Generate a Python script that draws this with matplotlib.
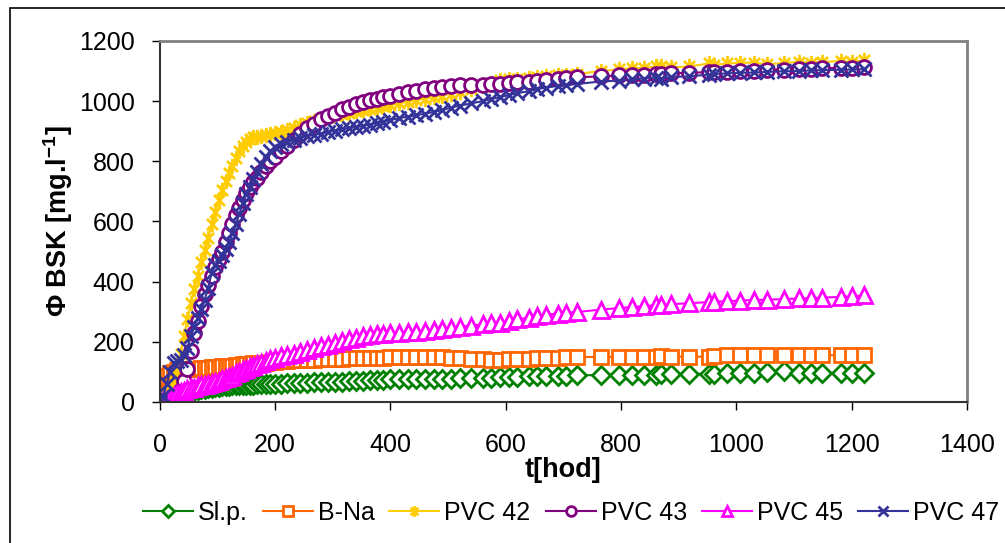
import matplotlib
matplotlib.use("Agg")
import matplotlib.pyplot as plt
from matplotlib.patches import Rectangle
from matplotlib.path import Path

plt.rcParams["font.family"] = ["Liberation Sans", "DejaVu Sans"]
plt.rcParams["mathtext.fontset"] = "custom"
plt.rcParams["mathtext.rm"] = "Liberation Sans"
plt.rcParams["mathtext.bf"] = "Liberation Sans:bold"

# sampling times [hod]
t = [0, 6, 12, 18, 24, 30, 36, 42, 48, 54, 60, 66, 72, 78, 84, 90, 96, 102, 108, 114,
     120, 126, 132, 138, 144, 150, 156, 162, 168, 176, 184, 192, 200, 210, 220, 232, 244,
     256, 268, 280, 292, 304, 316, 328, 340, 352, 364, 376, 388, 400, 415, 430, 445, 460,
     475, 490, 505, 520, 540, 560, 575, 590, 605, 620, 640, 655, 670, 690, 705, 724, 765,
     796, 820, 840, 860, 869, 886, 918, 952, 961, 984, 1007, 1031, 1054, 1083, 1109, 1129,
     1149, 1181, 1201, 1221]

slp = [0, 2, 5, 8, 12, 16, 20, 25, 30, 34, 37, 40, 42, 44, 46, 48, 50, 51, 52, 53,
       54, 55, 56, 56, 57, 57, 58, 58, 59, 59, 60, 60, 61, 61, 62, 63, 64,
       64, 65, 66, 67, 67, 68, 69, 70, 71, 72, 73, 74, 75, 75, 76, 76, 77,
       77, 78, 78, 79, 80, 80, 81, 82, 83, 84, 85, 86, 86, 87, 88, 89, 89,
       90, 90, 90, 91, 92, 92, 93, 94, 94, 95, 96, 97, 98, 104, 97, 96,
       95, 95, 95, 95]

bna = [0, 80, 88, 95, 100, 105, 107, 108, 109, 110, 111, 111, 112, 113, 114, 115, 116, 117, 118, 119,
       120, 121, 122, 124, 125, 126, 127, 128, 129, 130, 131, 132, 133, 135, 137, 138, 139,
       140, 141, 142, 143, 144, 144, 145, 145, 146, 146, 147, 147, 148, 148, 148, 149, 149,
       149, 148, 147, 146, 144, 142, 140, 141, 142, 143, 144, 145, 146, 147, 148, 149, 150,
       150, 151, 151, 150, 152, 150, 151, 150, 152, 155, 155, 156, 156, 155, 155, 156,
       156, 155, 155, 155]

pvc42 = [0, 8, 20, 40, 70, 110, 160, 220, 275, 330, 375, 420, 465, 505, 545, 590, 630, 670, 705, 735,
         760, 785, 810, 835, 850, 865, 875, 880, 880, 885, 888, 890, 895, 898, 905, 912, 920,
         928, 935, 942, 948, 953, 958, 962, 966, 970, 974, 978, 982, 986, 992, 998, 1003, 1008,
         1013, 1018, 1025, 1030, 1040, 1050, 1060, 1070, 1072, 1075, 1078, 1080, 1082, 1085, 1088, 1090, 1100,
         1105, 1110, 1110, 1115, 1118, 1112, 1115, 1125, 1120, 1125, 1127, 1128, 1122, 1127, 1130, 1128,
         1130, 1133, 1130, 1135]

pvc43 = [0, 0, 2, 5, 10, 20, 40, 70, 110, 170, 230, 270, 320, 360, 390, 420, 450, 475, 500, 530,
         560, 590, 620, 645, 670, 695, 715, 730, 745, 765, 785, 800, 815, 835, 850, 870, 890,
         910, 925, 940, 952, 962, 972, 980, 990, 997, 1003, 1008, 1013, 1018, 1024, 1030, 1035, 1040,
         1045, 1048, 1050, 1052, 1053, 1055, 1056, 1057, 1060, 1062, 1065, 1068, 1070, 1073, 1076, 1079, 1082,
         1085, 1087, 1088, 1090, 1090, 1092, 1094, 1096, 1096, 1098, 1100, 1101, 1103, 1104, 1106, 1108,
         1109, 1110, 1111, 1112]

pvc45 = [0, 3, 8, 14, 20, 25, 32, 38, 42, 45, 48, 52, 55, 58, 61, 64, 67, 70, 75, 80,
         83, 88, 95, 100, 105, 110, 116, 120, 125, 130, 137, 142, 146, 152, 156, 160, 165,
         172, 178, 185, 190, 196, 202, 208, 214, 218, 222, 225, 227, 228, 230, 232, 234, 236,
         239, 242, 246, 250, 254, 258, 261, 264, 268, 275, 280, 285, 290, 294, 297, 299, 307,
         312, 316, 318, 322, 323, 325, 328, 332, 333, 335, 337, 339, 340, 342, 344, 345,
         347, 349, 351, 354]

pvc47 = [0, 20, 60, 100, 130, 135, 140, 155, 180, 220, 250, 280, 310, 340, 380, 430, 455, 470, 490, 510,
         530, 560, 590, 625, 660, 690, 715, 740, 765, 790, 815, 835, 848, 858, 865, 870, 878,
         884, 888, 892, 897, 902, 906, 910, 913, 917, 922, 927, 932, 937, 943, 948, 953, 958,
         964, 970, 978, 985, 992, 1000, 1007, 1013, 1020, 1026, 1033, 1040, 1045, 1050, 1053, 1057, 1065,
         1068, 1073, 1075, 1078, 1075, 1080, 1082, 1088, 1090, 1092, 1094, 1095, 1097, 1099, 1100, 1102,
         1103, 1104, 1105, 1106]

# Excel-like star: vertical bar + x
star = Path([(0, -1), (0, 1), (-0.72, -0.72), (0.72, 0.72), (-0.72, 0.72), (0.72, -0.72)],
            [Path.MOVETO, Path.LINETO] * 3)

series = [
    ("Sl.p.", slp, "#008000", "D", 9),
    ("B-Na", bna, "#FF6600", "s", 9.5),
    ("PVC 42", pvc42, "#FFCC00", star, 11),
    ("PVC 43", pvc43, "#800080", "o", 10),
    ("PVC 45", pvc45, "#FF00FF", "^", 11),
    ("PVC 47", pvc47, "#333399", "x", 10),
]

fig = plt.figure(figsize=(10.05, 5.43), dpi=100)
ax = fig.add_axes([0.159, 0.2597, 0.803, 0.665])

for name, vals, col, mk, ms in series:
    ax.plot(t, vals, color=col, lw=1.5, marker=mk, markersize=ms, label=name,
            markerfacecolor="white", markeredgecolor=col, markeredgewidth=2)

ax.set_xlim(0, 1400)
ax.set_ylim(0, 1200)
ax.set_xticks(range(0, 1401, 200))
ax.set_yticks(range(0, 1201, 200))
ax.tick_params(axis="both", direction="out", length=6, width=1, labelsize=18)
ax.tick_params(axis="y", pad=12)
ax.tick_params(axis="x", pad=16)
for side in ("top", "right"):
    ax.spines[side].set_color("#808080")
    ax.spines[side].set_linewidth(2)
for side in ("left", "bottom"):
    ax.spines[side].set_color("#333333")
    ax.spines[side].set_linewidth(1.5)

ax.set_xlabel("t[hod]", fontsize=19.5, fontweight="bold", labelpad=0)
ax.set_ylabel("\u03a6 BSK [mg.l$^{\\mathbf{-1}}$]", fontsize=19.5, fontweight="bold", labelpad=3)

fig.legend(handles=ax.get_lines(), loc="center", bbox_to_anchor=(0.568, 0.055), ncol=6,
           frameon=False, fontsize=18, handlelength=2.0, handletextpad=0.2,
           columnspacing=0.6, markerscale=0.7, borderpad=0)

fig.patches.append(Rectangle((10 / 1005, -0.1), 1.2, (543 - 8) / 543 + 0.1,
                             transform=fig.transFigure, fill=False, edgecolor="black",
                             linewidth=1.2))

fig.savefig("out.png", dpi=100)
